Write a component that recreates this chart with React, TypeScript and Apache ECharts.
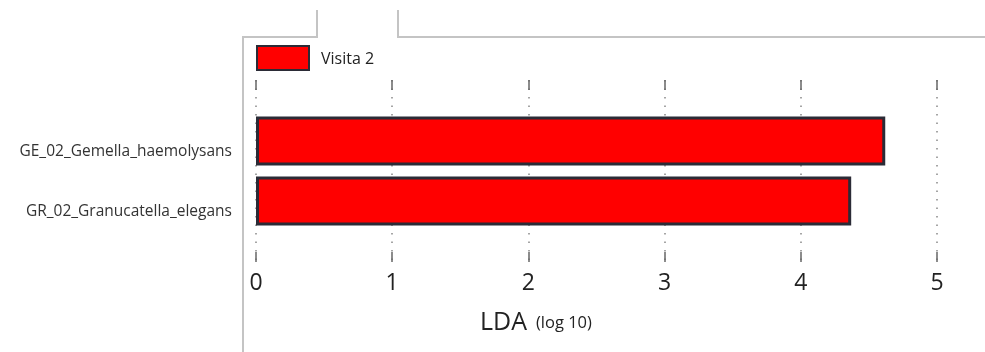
import React, { useEffect, useRef } from "react";
import * as echarts from "echarts";

const categories = ["GE_02_Gemella_haemolysans", "GR_02_Granucatella_elegans"];
const values = [4.62, 4.37];
const seriesName = "Visita 2";
const xTicks = [0, 1, 2, 3, 4, 5];

export default function App() {
  const ref = useRef<HTMLDivElement>(null);
  useEffect(() => {
    if (!ref.current) return;
    const chart = echarts.init(ref.current, null, { renderer: "svg" });
    const font = "'Open Sans', sans-serif";
    chart.setOption({
      animation: false,
      legend: {
        left: 251,
        top: 40,
        icon: "rect",
        itemWidth: 52,
        itemHeight: 24,
        itemGap: 10,
        textStyle: { fontFamily: font, fontSize: 16, color: "#222", padding: [0, 0, 0, 7] },
        data: [seriesName],
      },
      grid: [
        { left: 256, right: 48, top: 111, bottom: 121 },
        { left: 256, right: 48, top: 80, bottom: 90 },
      ],
      xAxis: [
        {
          gridIndex: 0,
          type: "value",
          min: xTicks[0],
          max: xTicks[xTicks.length - 1],
          interval: 1,
          axisLine: { show: false },
          axisTick: { show: false },
          axisLabel: { show: false },
          splitLine: { show: false },
        },
        {
          gridIndex: 1,
          type: "value",
          position: "bottom",
          min: xTicks[0],
          max: xTicks[xTicks.length - 1],
          interval: 1,
          axisLine: { show: false },
          axisTick: { show: true, inside: true, length: 10, lineStyle: { color: "#666", width: 1.5 } },
          axisLabel: { show: true, margin: 7, fontFamily: font, fontSize: 23, color: "#222" },
          splitLine: { show: true, lineStyle: { type: [1.5, 7], color: "#888", width: 1.5 } },
        },
        {
          gridIndex: 1,
          type: "value",
          position: "top",
          min: xTicks[0],
          max: xTicks[xTicks.length - 1],
          interval: 1,
          axisLine: { show: false },
          axisTick: { show: true, inside: true, length: 10, lineStyle: { color: "#666", width: 1.5 } },
          axisLabel: { show: false },
          splitLine: { show: false },
        },
      ],
      yAxis: [
        {
          gridIndex: 0,
          type: "category",
          inverse: true,
          data: categories,
          axisLine: { show: false },
          axisTick: { show: false },
          axisLabel: {
            margin: 24,
            fontFamily: font,
            fontSize: 15.5,
            color: "#333",
            verticalAlign: "top",
            lineHeight: 17,
          },
        },
        {
          gridIndex: 1,
          type: "value",
          show: false,
          min: 0,
          max: 1,
        },
      ],
      series: [
        {
          name: seriesName,
          type: "bar",
          xAxisIndex: 0,
          yAxisIndex: 0,
          data: values,
          barWidth: 49,
          itemStyle: { color: "#ff0000", borderColor: "#2b2b36", borderWidth: 3 },
        },
      ],
      graphic: [
        {
          type: "polyline",
          shape: { points: [[243, 352], [243, 37], [317, 37], [317, 10]] },
          style: { stroke: "#c4c4c4", lineWidth: 2, fill: null },
        },
        {
          type: "polyline",
          shape: { points: [[398, 10], [398, 37], [985, 37]] },
          style: { stroke: "#c4c4c4", lineWidth: 2, fill: null },
        },
        {
          type: "text",
          left: 480,
          top: 307,
          style: {
            text: "{a|LDA}{b|(log 10)}",
            rich: {
              a: { fontFamily: font, fontSize: 25, fill: "#222", verticalAlign: "bottom" },
              b: { fontFamily: font, fontSize: 16.5, fill: "#222", verticalAlign: "bottom", padding: [0, 0, 2, 9] },
            },
          },
        },
      ],
    });
    return () => chart.dispose();
  }, []);
  return <div ref={ref} style={{ position: "fixed", left: 0, top: 0, width: 985, height: 352 }} />;
}
